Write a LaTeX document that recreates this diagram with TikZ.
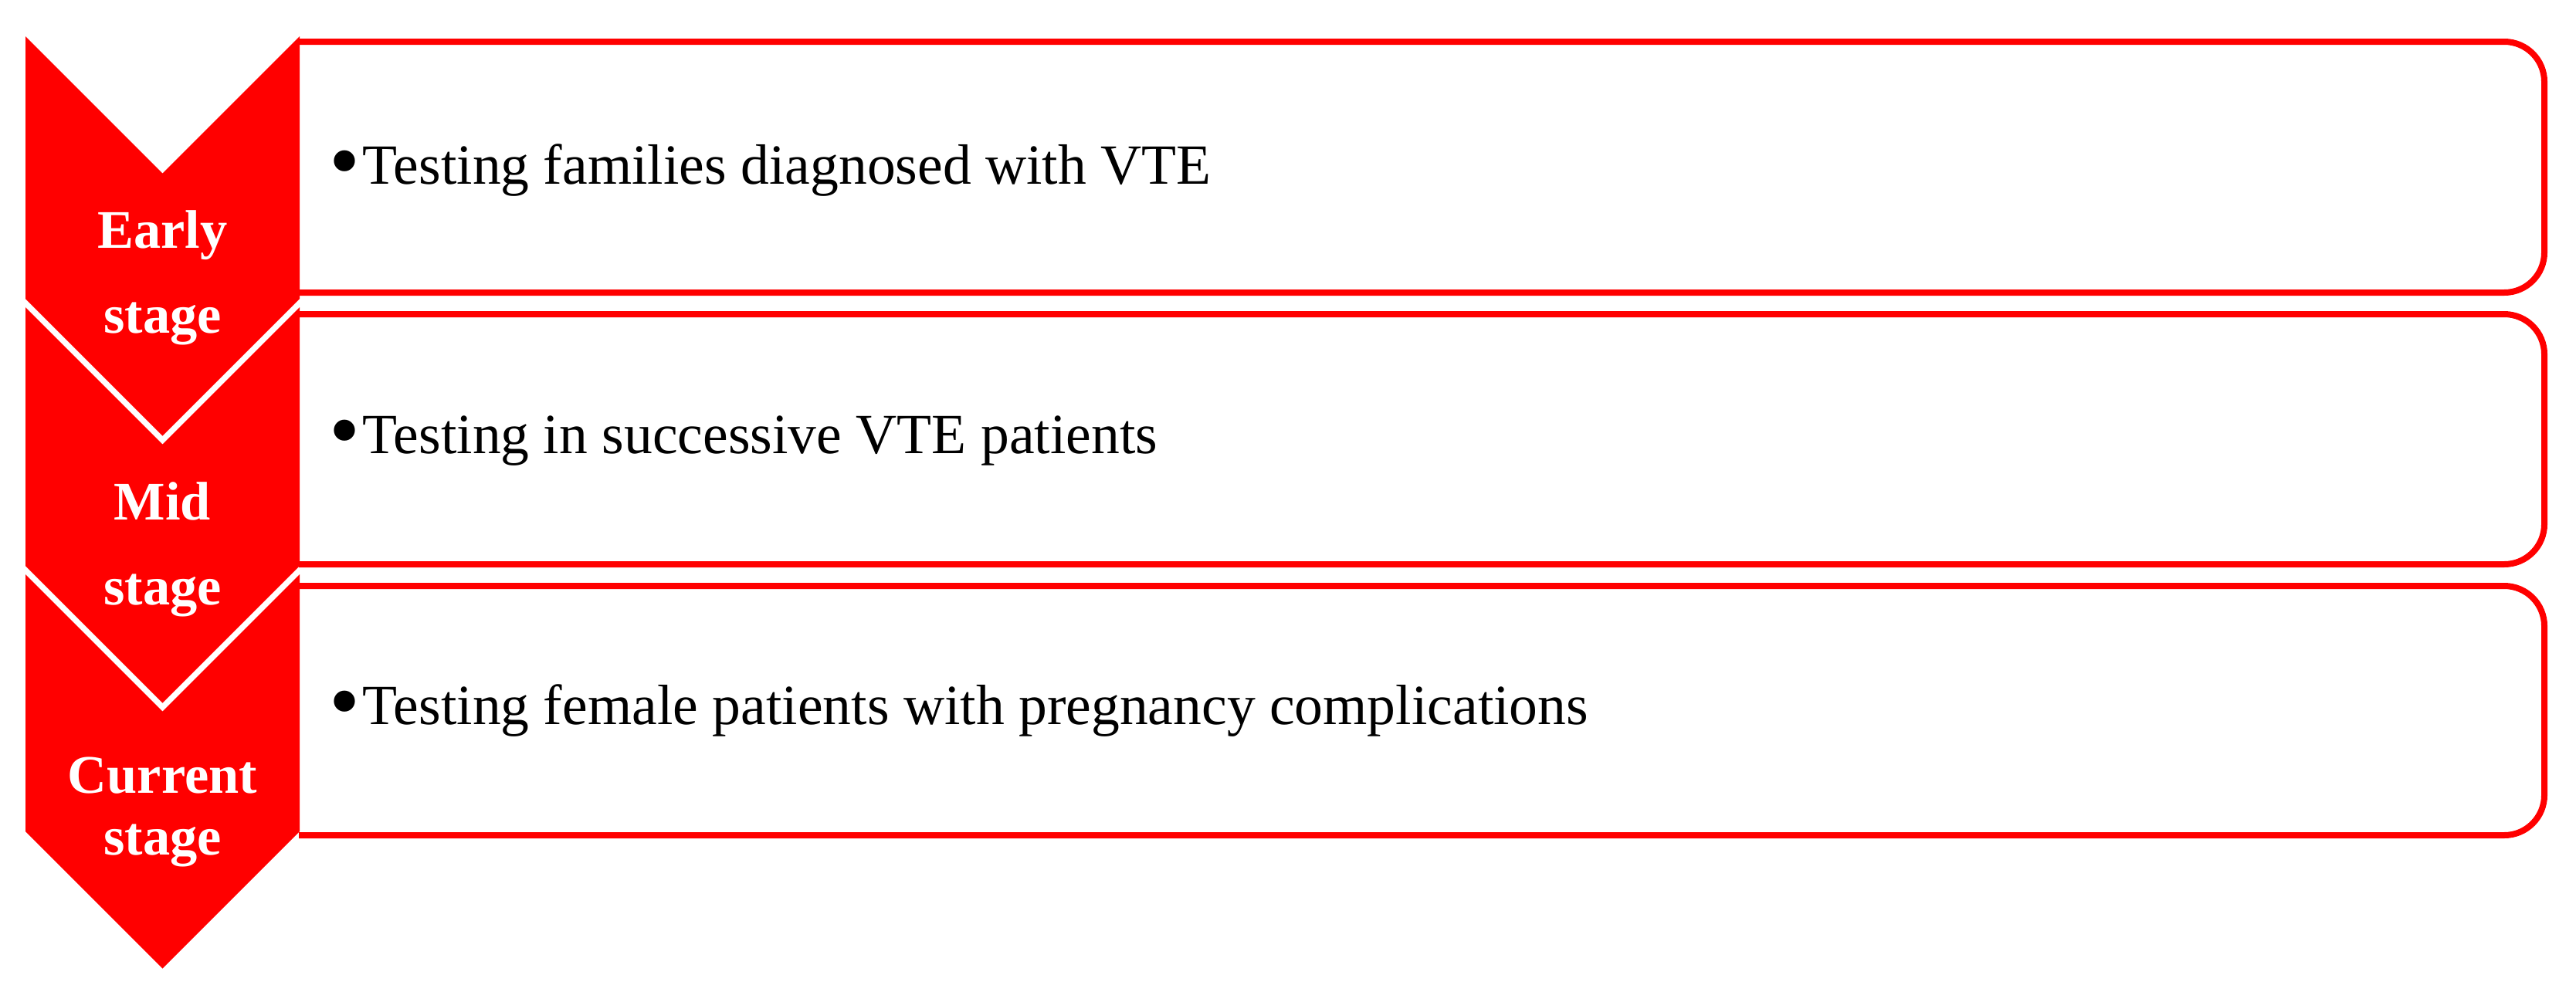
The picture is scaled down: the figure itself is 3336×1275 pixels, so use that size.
\documentclass[tikz,border=0pt]{standalone}
\usepackage{fontspec}
\setmainfont{Liberation Serif}
\definecolor{chevred}{RGB}{255,0,0}
\newcommand{\bigbullet}{\raisebox{-2.2pt}{\scalebox{1.55}{\textbullet}}\kern0.8pt}
\tikzset{
  chev/.style={fill=chevred, draw=none},
  stagebox/.style={draw=chevred, line width=2pt, rounded corners=13pt},
  stagelabel/.style={text=white, font=\fontsize{17.6}{27.5}\selectfont\bfseries, align=center, inner sep=0pt},
  itemtext/.style={text=black, font=\fontsize{18.4}{20}\selectfont, anchor=base west, inner sep=0pt}
}
\begin{document}
\begin{tikzpicture}[x=0.25pt,y=-0.25pt]
\useasboundingbox (0,0) rectangle (3336,1275);
% boxes (open on the left, hidden by the chevrons)
\draw[stagebox] (387,54) -- (3295,54) -- (3295,379) -- (387,379);
\draw[stagebox] (387,407) -- (3295,407) -- (3295,731) -- (387,731);
\draw[stagebox] (387,759) -- (3295,759) -- (3295,1082) -- (387,1082);
% chevrons
\fill[chev] (33,47) -- (210.5,224.5) -- (388,47) -- (388,387) -- (210.5,564.5) -- (33,387) -- cycle;
\fill[chev] (33,398) -- (210.5,575.5) -- (388,398) -- (388,733) -- (210.5,910.5) -- (33,733) -- cycle;
\fill[chev] (33,744) -- (210.5,921.5) -- (388,744) -- (388,1077) -- (210.5,1254.5) -- (33,1077) -- cycle;
% stage labels
\node[stagelabel] (early) at (210.5,360) {Early\\stage};
\node[stagelabel] (mid) at (210.5,712) {Mid\\stage};
\node[stagelabel, font=\fontsize{17.6}{20}\selectfont\bfseries] (current) at (210.5,1052) {Current\\stage};
% items
\node[itemtext] (t1) at (426,238) {\bigbullet Testing families diagnosed with VTE};
\node[itemtext] (t2) at (426,587) {\bigbullet Testing in successive VTE patients};
\node[itemtext] (t3) at (426,938) {\bigbullet Testing female patients with pregnancy complications};
\end{tikzpicture}
\end{document}
